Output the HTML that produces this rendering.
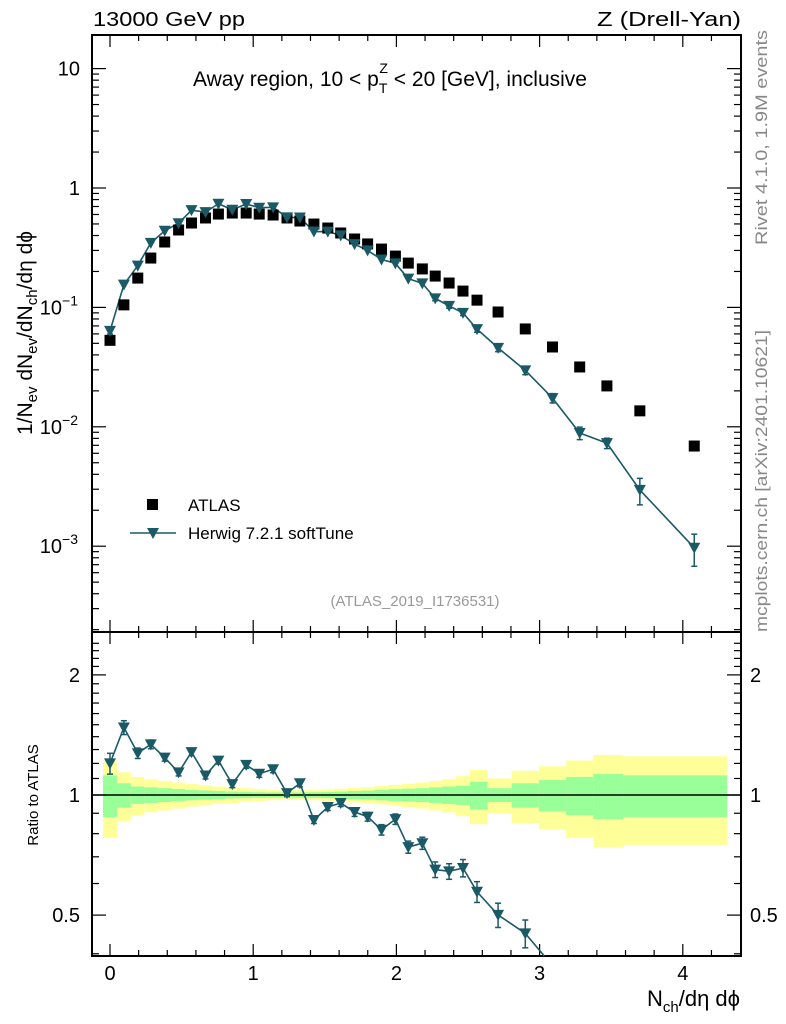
<!DOCTYPE html>
<html><head><meta charset="utf-8"><style>
html,body{margin:0;padding:0;background:#fff;width:786px;height:1024px;overflow:hidden;}
svg{display:block;font-family:"Liberation Sans",sans-serif;}
</style></head><body>
<svg id="c" width="786" height="1024" viewBox="0 0 786 1024">
<g id="plot"></g>
<text x="93" y="26" font-size="20" textLength="152" lengthAdjust="spacingAndGlyphs">13000 GeV pp</text>
<text x="597" y="26" font-size="20" textLength="144" lengthAdjust="spacingAndGlyphs">Z (Drell-Yan)</text>
<text x="193" y="86" font-size="21">Away region, 10 &lt; p<tspan font-size="14" dy="7">T</tspan><tspan font-size="14" dx="-8" dy="-20">Z</tspan><tspan dy="13"> &lt; 20 [GeV], inclusive</tspan></text>
<text transform="translate(32,333) rotate(-90)" font-size="21" text-anchor="middle">1/N<tspan font-size="15" dy="5">ev</tspan><tspan dy="-5"> dN</tspan><tspan font-size="15" dy="5">ev</tspan><tspan dy="-5">/dN</tspan><tspan font-size="15" dy="5">ch</tspan><tspan dy="-5">/dη dϕ</tspan></text>
<text transform="translate(38,795) rotate(-90)" font-size="15" text-anchor="middle">Ratio to ATLAS</text>
<text x="740" y="1006" font-size="22" text-anchor="end">N<tspan font-size="15" dy="6">ch</tspan><tspan dy="-6">/dη dϕ</tspan></text>
<text transform="translate(767,245) rotate(-90)" font-size="17" fill="#888" textLength="215" lengthAdjust="spacingAndGlyphs">Rivet 4.1.0,  1.9M events</text>
<text transform="translate(767,632) rotate(-90)" font-size="17" fill="#888" textLength="302" lengthAdjust="spacingAndGlyphs">mcplots.cern.ch [arXiv:2401.10621]</text>
<text x="415" y="606" font-size="15" fill="#999" text-anchor="middle">(ATLAS_2019_I1736531)</text>
<g>
<rect x="147" y="499" width="11" height="11" fill="#000"/>
<text x="188" y="511" font-size="17">ATLAS</text>
<line x1="130" x2="176" y1="533" y2="533" stroke="#1a5a66" stroke-width="1.6"/>
<polygon points="147,528 159,528 153,539" fill="#1a5a66"/>
<text x="188" y="539" font-size="17">Herwig 7.2.1 softTune</text>
</g>
</svg>
<script>
const xs=[0,0.097,0.194,0.285,0.382,0.479,0.569,0.667,0.757,0.854,0.951,1.042,1.139,1.236,1.326,1.424,1.521,1.611,1.708,1.799,1.896,1.993,2.083,2.181,2.271,2.368,2.465,2.563,2.71,2.90,3.09,3.28,3.47,3.70,4.08];
const atlas=[0.053,0.105,0.176,0.259,0.353,0.445,0.509,0.561,0.605,0.617,0.617,0.605,0.594,0.561,0.529,0.499,0.462,0.420,0.374,0.340,0.308,0.269,0.235,0.210,0.183,0.160,0.137,0.115,0.0915,0.066,0.0466,0.0317,0.022,0.0136,0.0069];
const herwig=[0.0636,0.155,0.224,0.347,0.438,0.507,0.652,0.628,0.738,0.657,0.734,0.684,0.689,0.567,0.566,0.432,0.431,0.401,0.339,0.300,0.252,0.234,0.174,0.159,0.119,0.103,0.0899,0.0658,0.0458,0.0297,0.0174,0.00887,0.0073,0.00296,0.00097];
const herwigRelErr=[0.06,0.04,0.03,0.025,0.02,0.02,0.02,0.02,0.02,0.02,0.02,0.02,0.02,0.02,0.02,0.02,0.02,0.02,0.025,0.025,0.03,0.03,0.035,0.035,0.045,0.045,0.05,0.06,0.07,0.08,0.09,0.12,0.1,0.25,0.3];
const greenBand=[0.12,0.07,0.05,0.045,0.04,0.035,0.03,0.027,0.024,0.02,0.018,0.016,0.015,0.015,0.015,0.016,0.018,0.02,0.023,0.026,0.03,0.034,0.037,0.04,0.045,0.05,0.055,0.08,0.04,0.07,0.09,0.11,0.13,0.12,0.12];
const yellowBand=[0.22,0.14,0.11,0.095,0.085,0.075,0.065,0.058,0.05,0.045,0.04,0.035,0.03,0.028,0.028,0.03,0.033,0.037,0.042,0.047,0.053,0.06,0.067,0.075,0.085,0.095,0.115,0.155,0.10,0.15,0.18,0.22,0.26,0.25,0.25];
const xTicks=[0,1,2,3,4];
const mainTicks=[10,1,0.1,0.01,0.001];
const mainTickLabels=["10","1","10^-1","10^-2","10^-3"];
const ratioTicks=[2,1,0.5];

const svg=document.getElementById('plot');
const NS='http://www.w3.org/2000/svg';
const L=92,R=741,T=35,MB=632,RB=956;
const X=v=>110+(v)*143.2;
const Ym=v=>188-Math.log10(v)*119.4;
const Yr=v=>795-Math.log10(v)*399;
const col='#1a5a66';
function el(tag,attrs,parent){const e=document.createElementNS(NS,tag);for(const k in attrs)e.setAttribute(k,attrs[k]);(parent||svg).appendChild(e);return e;}

const gB=el('g',{});


function edges(i){const a=i==0?xs[0]-(xs[1]-xs[0])/2:(xs[i-1]+xs[i])/2;const b=i==xs.length-1?4.31:(xs[i]+xs[i+1])/2;return [a,b];}
for(const [arr,c,nm] of [[yellowBand,'#ffff99','yellow-band'],[greenBand,'#99ff99','green-band']]){
  for(let i=0;i<xs.length;i++){const [a,b]=edges(i);
    const y1=Math.max(MB,Yr(1+arr[i])),y2=Math.min(RB,Yr(1-arr[i]));
    const r=el('rect',{x:X(a),y:y1,width:X(b)-X(a),height:y2-y1,fill:c},gB);
    
    }
}
el('line',{x1:L,x2:R,y1:Yr(1),y2:Yr(1),stroke:'#000','stroke-width':1.5});

for(const [y1,y2] of [[T,MB],[MB,RB]]){el('rect',{x:L,y:y1,width:R-L,height:y2-y1,fill:'none',stroke:'#000','stroke-width':2});}

for(let v=0;v<=4.4;v+=0.2){const vv=Math.round(v*10)/10;const maj=Math.abs(vv-Math.round(vv))<1e-6;const len=maj?12:6;const x=X(vv);if(x<L||x>R)continue;
  for(const [y,d] of [[T,1],[MB,-1],[MB,1],[RB,-1]])el('line',{x1:x,x2:x,y1:y,y2:y+d*len,stroke:'#000','stroke-width':1.2});}
xTicks.forEach(v=>{const t=el('text',{x:X(v),y:980,'font-size':20,'text-anchor':'middle'});t.textContent=v;
 
 });
for(let d=-4;d<=1;d++){for(let m=1;m<10;m++){const v=m*Math.pow(10,d);const y=Ym(v);if(y<T||y>MB)continue;const len=m==1?14:7;
 el('line',{x1:L,x2:L+len,y1:y,y2:y,stroke:'#000','stroke-width':1.2});el('line',{x1:R,x2:R-len,y1:y,y2:y,stroke:'#000','stroke-width':1.2});}}
mainTicks.forEach((v,i)=>{const s=mainTickLabels[i];const t=el('text',{x:80,y:Ym(v)+7,'font-size':20,'text-anchor':'end'});
 if(s.indexOf('^')>0){const p=s.split('^');t.textContent=p[0];const ts=el('tspan',{dy:-9,'font-size':14},t);ts.textContent=p[1].replace('-','\u2212');t.setAttribute('x',78);}else t.textContent=s;
 
 });
for(let v=0.4;v<=2.5;v+=0.1){const vv=Math.round(v*10)/10;const y=Yr(vv);if(y<MB||y>RB)continue;const maj=[0.5,1,2].includes(vv);const len=maj?14:7;
 el('line',{x1:L,x2:L+len,y1:y,y2:y,stroke:'#000','stroke-width':1.2});el('line',{x1:R,x2:R-len,y1:y,y2:y,stroke:'#000','stroke-width':1.2});}
ratioTicks.forEach(v=>{for(const [x,a] of [[80,'end'],[750,'start']]){const t=el('text',{x:x,y:Yr(v)+7,'font-size':20,'text-anchor':a});t.textContent=v;
 
 }});

function clippedLine(pts,ymin,ymax,parent){
  // pts: [[x,y],...]; draw segments clipped to ymin..ymax
  let out=[];
  for(let i=0;i<pts.length-1;i++){
    let [x1,y1]=pts[i],[x2,y2]=pts[i+1];
    if((y1>ymax&&y2>ymax)||(y1<ymin&&y2<ymin))continue;
    const cl=(xa,ya,xb,yb)=>{if(ya>ymax){xa=xa+(xb-xa)*(ymax-ya)/(yb-ya);ya=ymax;}if(ya<ymin){xa=xa+(xb-xa)*(ymin-ya)/(yb-ya);ya=ymin;}return [xa,ya];};
    [x1,y1]=cl(x1,y1,x2,y2);[x2,y2]=cl(x2,y2,x1,y1);
    el('line',{x1:x1,y1:y1,x2:x2,y2:y2,stroke:col,'stroke-width':1.6},parent);
  }
}
const gM=el('g',{});


clippedLine(xs.map((x,i)=>[X(x),Ym(herwig[i])]),T,MB,gM);
xs.forEach((x,i)=>{const s=el('rect',{x:X(x)-5.5,y:Ym(atlas[i])-5.5,width:11,height:11,fill:'#000'},gM);
 
 });
function tri(cx,cy,p,nm){const t=el('polygon',{points:`${cx-6},${cy-5} ${cx+6},${cy-5} ${cx},${cy+6}`,fill:col},p);
 
 }
function ebar(x,y1,y2,p,lo,hi){y1=Math.max(lo,y1);y2=Math.min(hi,y2);el('line',{x1:x,x2:x,y1:y1,y2:y2,stroke:col,'stroke-width':1.5},p);el('line',{x1:x-3,x2:x+3,y1:y1,y2:y1,stroke:col,'stroke-width':1.5},p);el('line',{x1:x-3,x2:x+3,y1:y2,y2:y2,stroke:col,'stroke-width':1.5},p);}
xs.forEach((x,i)=>{const e=herwigRelErr[i];const y=Ym(herwig[i]);if(y<T||y>MB)return;if(e>0.04)ebar(X(x),Ym(herwig[i]*(1+e)),Ym(herwig[i]*(1-e)),gM,T,MB);tri(X(x),y,gM,'herwig-point');});

const gR=el('g',{});


const rat=xs.map((x,i)=>herwig[i]/atlas[i]);
clippedLine(xs.map((x,i)=>[X(x),Yr(rat[i])]),MB,RB,gR);
xs.forEach((x,i)=>{const y=Yr(rat[i]);if(y<MB||y>RB-6)return;const e=Math.max(herwigRelErr[i],0.015);ebar(X(x),Yr(rat[i]*(1+e)),Yr(rat[i]*(1-e)),gR,MB,RB);tri(X(x),y,gR,'ratio-point');});
</script>
</body></html>
